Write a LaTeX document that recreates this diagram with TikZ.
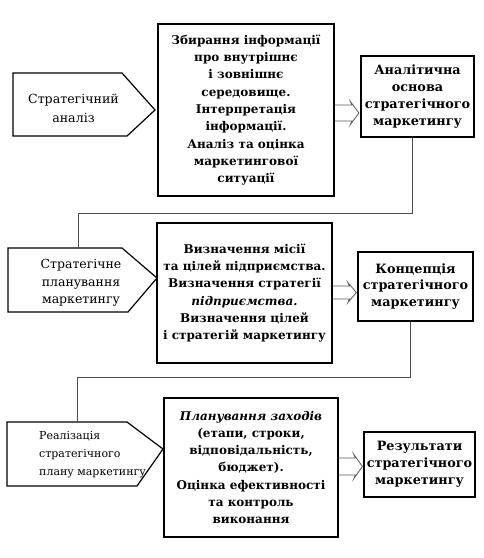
\documentclass[tikz,border=0pt]{standalone}
\usepackage{fontspec}
\setmainfont{DejaVu Serif}
\usetikzlibrary{calc}
\newcommand\hollowarrow[3]{%
  \draw[harrow] ($(#1)+(0,-#3)$) -- ($(#2)+(-7,-#3)$) -- ($(#2)+(-8.5,{-#3-3.5})$) -- (#2)
    -- ($(#2)+(-8.5,{#3+3.5})$) -- ($(#2)+(-7,#3)$) -- ($(#1)+(0,#3)$);}
\begin{document}
\begin{tikzpicture}[x=1pt,y=-1pt,
  bigbox/.style={draw=black, line width=1.2pt, align=center, inner sep=0pt,
    font=\bfseries\fontsize{12}{17.3}\selectfont},
  resbox/.style={draw=black, line width=1.2pt, align=center, inner sep=0pt,
    font=\bfseries\fontsize{12.8}{17}\selectfont},
  ptext/.style={inner sep=0pt},
  pent/.style={draw=black, line width=1.2pt, line join=miter},
  conn/.style={draw=black!70, line width=0.7pt},
  harrow/.style={draw=black!65, line width=0.8pt, line join=miter}]
\useasboundingbox (0,0) rectangle (483,558);

% pentagons
\draw[pent] (13,73) -- (122,73) -- (155,110) -- (127,136) -- (13,136) -- cycle;
\draw[pent] (8,248) -- (122,248) -- (157,278) -- (128,312) -- (8,312) -- cycle;
\draw[pent] (7,422) -- (127,422) -- (163,449) -- (137,486) -- (7,486) -- cycle;
\coordinate (p2top) at (78,248);
\coordinate (p3top) at (77,422);

\node[ptext, align=center, font=\fontsize{12.6}{19}\selectfont] (p1) at (73.5,108)
  {Стратегічний\\аналіз};
\node[ptext, align=center, font=\fontsize{12.5}{17.5}\selectfont] (p2) at (81,283)
  {Стратегічне\\планування\\маркетингу};
\node[ptext, align=left, anchor=west, font=\fontsize{11}{18}\selectfont] (p3) at (39,455)
  {Реалізація\\стратегічного\\плану маркетингу};

% big boxes
\node[bigbox, minimum width=176, minimum height=172] (b1) at (246,110)
  {Збирання інформації\\про внутрішнє\\і зовнішнє\\середовище.\\Інтерпретація\\інформації.\\Аналіз та оцінка\\маркетингової\\ситуації};
\node[bigbox, minimum width=175, minimum height=140] (b2) at (244.5,293)
  {Визначення місії\\та цілей підприємства.\\Визначення стратегії\\\textit{підприємства.}\\Визначення цілей\\і стратегій маркетингу};
\node[bigbox, minimum width=174, minimum height=139] (b3) at (251,467.5)
  {\textit{Планування заходів}\\(етапи, строки,\\відповідальність,\\бюджет).\\Оцінка ефективності\\та контроль\\виконання};

% result boxes
\node[resbox, minimum width=113, minimum height=81] (r1) at (417.5,96.5)
  {Аналітична\\основа\\стратегічного\\маркетингу};
\node[resbox, minimum width=115, minimum height=69, font=\bfseries\fontsize{12.8}{16.5}\selectfont] (r2) at (415.5,286.5)
  {Концепція\\стратегічного\\маркетингу};
\node[resbox, minimum width=111, minimum height=65] (r3) at (419.5,464.5)
  {Результати\\стратегічного\\маркетингу};

% hollow arrows
\coordinate (a1s) at (b1.east |- 0,113);
\coordinate (a1e) at ($(r1.west |- 0,113)+(-1.5,0)$);
\coordinate (a2s) at (b2.east |- 0,292.5);
\coordinate (a2e) at ($(r2.west |- 0,292.5)+(-1,0)$);
\coordinate (a3s) at (b3.east |- 0,466.5);
\coordinate (a3e) at ($(r3.west |- 0,466.5)+(-1,0)$);
\hollowarrow{a1s}{a1e}{8}
\hollowarrow{a2s}{a2e}{6.5}
\hollowarrow{a3s}{a3e}{8.5}

% connectors
\draw[conn] ([xshift=-5.5pt]r1.south) -- ++(0,76) -| (p2top);
\draw[conn] ([xshift=-5.5pt]r2.south) -- ++(0,56) -| (p3top);
\end{tikzpicture}
\end{document}
